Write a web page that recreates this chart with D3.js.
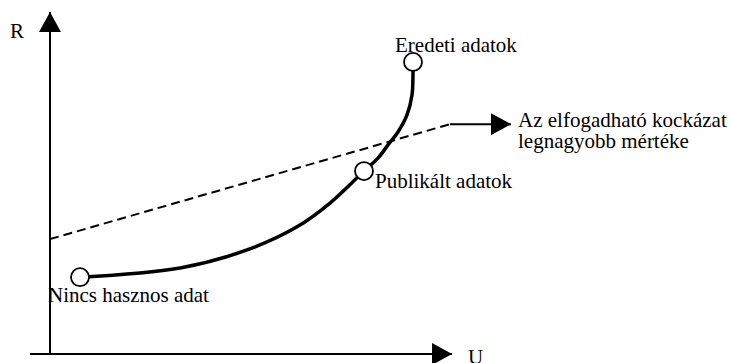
<!DOCTYPE html>
<html>
<head>
<meta charset="utf-8">
<script src="https://cdn.jsdelivr.net/npm/d3@7"></script>
<style>
  body { margin: 0; background: #fff; }
</style>
</head>
<body>
<div id="chart"></div>
<script>
// R-U map: risk (R) vs utility (U), values in 0..100 units
var curveU = [7.5, 32.5, 49.25, 61.75, 70, 78.5, 82, 84.5, 87, 89.25, 90.5, 90.75, 90.75];
var curveR = [22.6, 25.3, 30.6, 37.4, 44.4, 53.8, 57.6, 61.5, 65.3, 70.3, 76.2, 82.6, 85.9];

// labelled points on the curve
var pointNames = ["Nincs hasznos adat", "Publikált adatok", "Eredeti adatok"];
var pointU = [7.5, 78.5, 90.75];
var pointR = [22.6, 53.8, 85.9];

// maximum acceptable risk threshold (dashed)
var limitU = [0, 100];
var limitR = [33.8, 67.6];
var limitLabel = ["Az elfogadható kockázat", "legnagyobb mértéke"];

var width = 731, height = 363;
var font = "'Liberation Serif', 'Times New Roman', Times, serif";

var x = d3.scaleLinear().domain([0, 100]).range([50, 450]);
var y = d3.scaleLinear().domain([0, 100]).range([354, 14]);

var svg = d3.select("#chart").append("svg")
  .attr("width", width)
  .attr("height", height)
  .style("font-family", font)
  .style("font-size", "21px");

// arrow heads
var defs = svg.append("defs");
defs.append("marker")
  .attr("id", "arrow")
  .attr("viewBox", "0 0 20 22")
  .attr("refX", 20).attr("refY", 11)
  .attr("markerWidth", 20).attr("markerHeight", 22)
  .attr("markerUnits", "userSpaceOnUse")
  .attr("orient", "auto")
  .append("path")
  .attr("d", "M0,0 L20,11 L0,22 Z")
  .attr("fill", "#000");

// axes
svg.append("line")
  .attr("x1", x(0)).attr("y1", y(0))
  .attr("x2", x(0)).attr("y2", y(0) - 342)
  .attr("stroke", "#000").attr("stroke-width", 2)
  .attr("marker-end", "url(#arrow)");

svg.append("line")
  .attr("x1", x(0) - 20).attr("y1", y(0))
  .attr("x2", x(100) + 2).attr("y2", y(0))
  .attr("stroke", "#000").attr("stroke-width", 2)
  .attr("marker-end", "url(#arrow)");

svg.append("text").attr("x", 10).attr("y", 38).text("R");
svg.append("text").attr("x", 468).attr("y", 364).text("U");

// dashed limit line + arrow to its label
svg.append("line")
  .attr("x1", x(limitU[0])).attr("y1", y(limitR[0]))
  .attr("x2", x(limitU[1])).attr("y2", y(limitR[1]))
  .attr("stroke", "#000").attr("stroke-width", 2)
  .attr("stroke-dasharray", "9,5");

svg.append("line")
  .attr("x1", x(limitU[1])).attr("y1", y(limitR[1]))
  .attr("x2", x(limitU[1]) + 61).attr("y2", y(limitR[1]))
  .attr("stroke", "#000").attr("stroke-width", 2)
  .attr("marker-end", "url(#arrow)");

svg.selectAll(".limit-label")
  .data(limitLabel)
  .enter().append("text")
  .attr("class", "limit-label")
  .attr("x", 518)
  .attr("y", function(d, i) { return 127 + i * 21; })
  .text(function(d) { return d; });

// the R-U curve
var line = d3.line()
  .x(function(d, i) { return x(curveU[i]); })
  .y(function(d, i) { return y(curveR[i]); })
  .curve(d3.curveCatmullRom.alpha(0.5));

svg.append("path")
  .attr("d", line(curveU))
  .attr("fill", "none")
  .attr("stroke", "#000")
  .attr("stroke-width", 3.5);

// circles on the curve
svg.selectAll(".pt")
  .data(pointNames)
  .enter().append("circle")
  .attr("class", "pt")
  .attr("cx", function(d, i) { return x(pointU[i]); })
  .attr("cy", function(d, i) { return y(pointR[i]); })
  .attr("r", 9)
  .attr("fill", "#fff")
  .attr("stroke", "#000")
  .attr("stroke-width", 1.8);

// point labels (offsets)
var labelDx = [-32, 11, -18];
var labelDy = [25, 17, -10];
svg.selectAll(".pt-label")
  .data(pointNames)
  .enter().append("text")
  .attr("class", "pt-label")
  .attr("x", function(d, i) { return x(pointU[i]) + labelDx[i]; })
  .attr("y", function(d, i) { return y(pointR[i]) + labelDy[i]; })
  .text(function(d) { return d; });
</script>
</body>
</html>
